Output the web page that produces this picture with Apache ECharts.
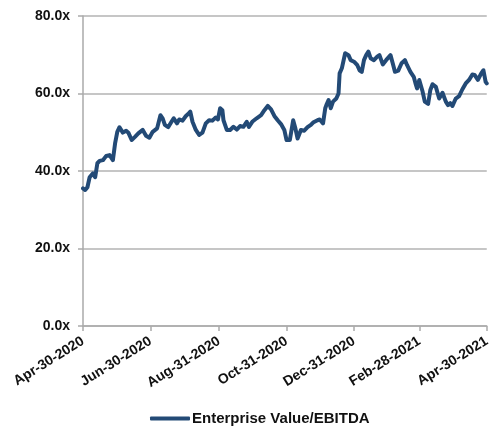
<!DOCTYPE html>
<html>
<head>
<meta charset="utf-8">
<script src="https://cdn.jsdelivr.net/npm/echarts@6/dist/echarts.min.js"></script>
<style>
  html, body { margin: 0; padding: 0; background: #fff; }
  #chart { width: 493px; height: 430px; }
</style>
</head>
<body>
<div id="chart"></div>
<script>
var chart = echarts.init(document.getElementById('chart'));

var seriesName = 'Enterprise Value/EBITDA';
var tickDates = ['2020-04-30', '2020-06-30', '2020-08-31', '2020-10-31', '2020-12-31', '2021-02-28', '2021-04-30'];
var monthNames = ['Jan', 'Feb', 'Mar', 'Apr', 'May', 'Jun', 'Jul', 'Aug', 'Sep', 'Oct', 'Nov', 'Dec'];

var dates = [
  '2020-04-30', '2020-05-02', '2020-05-04', '2020-05-06', '2020-05-09', '2020-05-11', '2020-05-13', '2020-05-15',
  '2020-05-18', '2020-05-21', '2020-05-24', '2020-05-27', '2020-05-29', '2020-05-31', '2020-06-02', '2020-06-05',
  '2020-06-08', '2020-06-10', '2020-06-13', '2020-06-16', '2020-06-19', '2020-06-23', '2020-06-26', '2020-06-29',
  '2020-07-02', '2020-07-06', '2020-07-09', '2020-07-11', '2020-07-13', '2020-07-16', '2020-07-19', '2020-07-21',
  '2020-07-24', '2020-07-26', '2020-07-29', '2020-08-01', '2020-08-03', '2020-08-05', '2020-08-07', '2020-08-10',
  '2020-08-13', '2020-08-16', '2020-08-19', '2020-08-22', '2020-08-25', '2020-08-28', '2020-08-30', '2020-09-01',
  '2020-09-03', '2020-09-04', '2020-09-07', '2020-09-10', '2020-09-13', '2020-09-16', '2020-09-19', '2020-09-22',
  '2020-09-25', '2020-09-27', '2020-09-30', '2020-10-04', '2020-10-08', '2020-10-11', '2020-10-14', '2020-10-17',
  '2020-10-20', '2020-10-23', '2020-10-26', '2020-10-29', '2020-10-31', '2020-11-03', '2020-11-06', '2020-11-08',
  '2020-11-10', '2020-11-13', '2020-11-16', '2020-11-19', '2020-11-22', '2020-11-24', '2020-11-28', '2020-11-30',
  '2020-12-03', '2020-12-05', '2020-12-06', '2020-12-08', '2020-12-10', '2020-12-12', '2020-12-15', '2020-12-17',
  '2020-12-18', '2020-12-20', '2020-12-21', '2020-12-23', '2020-12-26', '2020-12-28', '2020-12-31', '2021-01-03',
  '2021-01-05', '2021-01-07', '2021-01-09', '2021-01-11', '2021-01-13', '2021-01-15', '2021-01-18', '2021-01-21',
  '2021-01-23', '2021-01-26', '2021-01-29', '2021-02-02', '2021-02-04', '2021-02-06', '2021-02-09', '2021-02-12',
  '2021-02-15', '2021-02-17', '2021-02-20', '2021-02-23', '2021-02-25', '2021-02-26', '2021-02-28', '2021-03-03',
  '2021-03-05', '2021-03-08', '2021-03-10', '2021-03-12', '2021-03-15', '2021-03-18', '2021-03-21', '2021-03-24',
  '2021-03-26', '2021-03-28', '2021-03-30', '2021-04-02', '2021-04-05', '2021-04-08', '2021-04-11', '2021-04-14',
  '2021-04-17', '2021-04-19', '2021-04-22', '2021-04-25', '2021-04-27', '2021-04-29', '2021-04-30'
];

var evEbitda = [
  35.5, 35.1, 35.8, 38.4, 39.4, 38.4, 42.0, 42.6,
  42.8, 43.9, 44.1, 42.8, 47.1, 50.1, 51.3, 49.9,
  50.4, 49.9, 48.0, 48.8, 49.7, 50.6, 49.1, 48.6,
  50.1, 51.0, 54.4, 53.6, 51.9, 51.3, 52.7, 53.6,
  52.3, 53.3, 53.0, 54.2, 54.7, 55.3, 52.7, 50.6,
  49.3, 49.9, 52.3, 53.1, 53.0, 53.8, 53.3, 56.2,
  55.7, 53.1, 50.6, 50.6, 51.4, 50.7, 51.6, 51.4,
  52.7, 51.4, 52.7, 53.6, 54.4, 55.7, 56.8, 55.9,
  54.2, 53.1, 52.1, 50.6, 48.0, 48.0, 53.1, 51.0,
  48.4, 50.6, 50.4, 51.3, 51.9, 52.5, 53.1, 53.3,
  52.3, 56.2, 57.0, 58.3, 56.2, 57.9, 58.7, 60.0,
  65.2, 66.5, 66.9, 70.4, 69.9, 68.6, 68.2, 67.3,
  66.0, 65.6, 68.6, 69.9, 70.8, 69.1, 68.6, 69.5,
  69.9, 67.5, 68.6, 69.9, 67.8, 65.6, 65.9, 67.8,
  68.6, 67.3, 65.6, 64.3, 62.2, 61.3, 63.5, 60.5,
  57.9, 57.3, 60.9, 62.4, 61.7, 58.7, 60.2, 57.9,
  57.0, 57.5, 56.8, 58.7, 59.3, 61.1, 62.6, 63.5,
  64.9, 64.8, 63.5, 65.2, 66.0, 63.0, 62.6
];

var yTicks = [0, 20, 40, 60, 80];

// x axis is a plain value axis counted in days since the first tick date
var DAY = 86400000;
function toTime(s) {
  var p = s.split('-');
  return Date.UTC(+p[0], +p[1] - 1, +p[2]);
}
var t0 = toTime(tickDates[0]);
function toDay(s) { return Math.round((toTime(s) - t0) / DAY); }

var points = [];
for (var i = 0; i < dates.length; i++) {
  points.push([toDay(dates[i]), evEbitda[i]]);
}
var tickDays = tickDates.map(toDay);

function fmtDay(v) {
  var d = new Date(t0 + v * DAY);
  var dd = d.getUTCDate();
  return monthNames[d.getUTCMonth()] + '-' + (dd < 10 ? '0' + dd : dd) + '-' + d.getUTCFullYear();
}

var labelFont = {
  color: '#111',
  fontFamily: '"Liberation Sans", Arial, sans-serif',
  fontWeight: 'bold',
  fontSize: 14
};

var option = {
  animation: false,
  backgroundColor: '#fff',
  grid: { left: 83, right: 2, top: 16, bottom: 104, containLabel: false },
  legend: {
    data: [seriesName],
    left: 150,
    top: 411,
    icon: 'roundRect',
    itemWidth: 40,
    itemHeight: 4,
    itemGap: 2,
    padding: 0,
    textStyle: Object.assign({}, labelFont, { fontSize: 15, padding: [0, 0, 0, -3] })
  },
  xAxis: {
    type: 'value',
    min: tickDays[0],
    max: tickDays[tickDays.length - 1],
    axisLine: { show: true, lineStyle: { color: '#aaa', width: 1.5 } },
    axisTick: { show: true, customValues: tickDays, length: 5, lineStyle: { color: '#aaa', width: 1.5 } },
    axisLabel: Object.assign({
      customValues: tickDays,
      rotate: 32,
      margin: 14,
      formatter: fmtDay,
      hideOverlap: false
    }, labelFont),
    splitLine: { show: false }
  },
  yAxis: {
    type: 'value',
    min: yTicks[0],
    max: yTicks[yTicks.length - 1],
    interval: 20,
    axisLine: { show: true, lineStyle: { color: '#aaa', width: 1.5 } },
    axisTick: { show: true, length: 5, lineStyle: { color: '#aaa', width: 1.5 } },
    axisLabel: Object.assign({
      margin: 13,
      formatter: function (v) { return v.toFixed(1) + 'x'; }
    }, labelFont),
    splitLine: { show: true, lineStyle: { color: '#b3b3b3', width: 1.5 } }
  },
  series: [
    {
      name: seriesName,
      type: 'line',
      data: points,
      symbol: 'none',
      lineStyle: { color: '#234a76', width: 4, join: 'round', cap: 'round' },
      itemStyle: { color: '#234a76' }
    }
  ]
};

chart.setOption(option);
</script>
</body>
</html>
